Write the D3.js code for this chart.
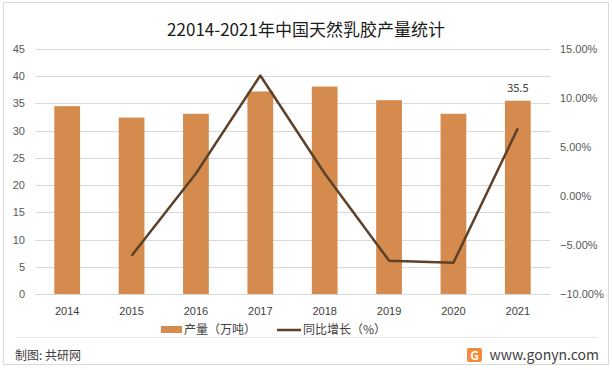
<!DOCTYPE html>
<html>
<head>
<meta charset="utf-8">
<script src="https://cdn.jsdelivr.net/npm/d3@7"></script>
<style>
  body { margin: 0; background: #fff; }
  svg { font-family: "Microsoft YaHei", "Noto Sans CJK SC", "DejaVu Sans", sans-serif; }
</style>
</head>
<body>
<div class="chart"></div>
<script>
'use strict';

const years = ['2014', '2015', '2016', '2017', '2018', '2019', '2020', '2021'];
const output = [34.5, 32.4, 33.1, 37.2, 38.1, 35.6, 33.1, 35.5]; // 产量（万吨）
const growth = [null, -6.1, 2.3, 12.3, 2.3, -6.6, -6.8, 6.9]; // 同比增长（%）
const leftTicks = [0, 5, 10, 15, 20, 25, 30, 35, 40, 45];
const rightTicks = [-10, -5, 0, 5, 10, 15];

const width = 612;
const height = 370;
const margin = {top: 49, right: 62, bottom: 76, left: 35};

const svg = d3.select('.chart')
    .append('svg')
    .attr('width', width)
    .attr('height', height);

// outer frame
svg.append('rect')
    .attr('x', 3.5).attr('y', 2.5)
    .attr('width', 605).attr('height', 362)
    .attr('fill', '#fff')
    .attr('stroke', '#d9d9d9');

const x = d3.scaleBand()
    .domain(years)
    .range([margin.left, width - margin.right])
    .paddingInner(0.6)
    .paddingOuter(0.3);

const y = d3.scaleLinear()
    .domain([0, 45])
    .range([height - margin.bottom, margin.top]);

const y2 = d3.scaleLinear()
    .domain([-10, 15])
    .range([height - margin.bottom, margin.top]);

// gridlines
svg.append('g')
    .selectAll('line')
    .data(leftTicks)
    .enter().append('line')
    .attr('x1', margin.left)
    .attr('x2', width - margin.right)
    .attr('y1', (d) => Math.round(y(d)) + 0.5)
    .attr('y2', (d) => Math.round(y(d)) + 0.5)
    .attr('stroke', '#d9d9d9');

// left axis
const leftAxis = svg.append('g')
    .attr('transform', 'translate(' + margin.left + ',0)')
    .call(d3.axisLeft(y).tickValues(leftTicks).tickSize(0).tickPadding(10));
leftAxis.select('.domain').remove();
leftAxis.selectAll('text')
    .attr('fill', '#595959')
    .style('font-size', '11px');

// right axis
const rightAxis = svg.append('g')
    .attr('transform', 'translate(' + (width - margin.right) + ',0)')
    .call(d3.axisRight(y2).tickValues(rightTicks).tickSize(0).tickPadding(10)
        .tickFormat((d) => d3.format('.2f')(d) + '%'));
rightAxis.select('.domain').remove();
rightAxis.selectAll('text')
    .attr('fill', '#595959')
    .style('font-size', '11px');

// x axis labels
const bottomAxis = svg.append('g')
    .attr('transform', 'translate(0,' + (height - margin.bottom) + ')')
    .call(d3.axisBottom(x).tickSize(0).tickPadding(13));
bottomAxis.select('.domain').remove();
bottomAxis.selectAll('text')
    .attr('fill', '#404040')
    .style('font-size', '11px');

// bars
svg.append('g')
    .selectAll('rect')
    .data(output)
    .enter().append('rect')
    .attr('x', (d, i) => x(years[i]))
    .attr('y', (d) => y(d))
    .attr('width', x.bandwidth())
    .attr('height', (d) => y(0) - y(d))
    .attr('fill', '#d58b4d');

// label on last bar
const last = output.length - 1;
svg.append('text')
    .attr('x', x(years[last]) + x.bandwidth() / 2)
    .attr('y', y(output[last]) - 9)
    .attr('text-anchor', 'middle')
    .attr('fill', '#404040')
    .style('font-size', '11px')
    .text(output[last]);

// growth line
const line = d3.line()
    .defined((d) => d !== null)
    .x((d, i) => x(years[i]) + x.bandwidth() / 2)
    .y((d) => y2(d));

svg.append('path')
    .datum(growth)
    .attr('d', line)
    .attr('fill', 'none')
    .attr('stroke', '#5e4129')
    .attr('stroke-width', 2.5)
    .attr('stroke-linejoin', 'round');

// title
svg.append('text')
    .attr('x', 306)
    .attr('y', 36)
    .attr('text-anchor', 'middle')
    .attr('fill', '#1a1a1a')
    .style('font-size', '17px')
    .text('22014-2021年中国天然乳胶产量统计');

// legend
const legend = svg.append('g').attr('transform', 'translate(0,330)');
legend.append('rect')
    .attr('x', 161).attr('y', -4)
    .attr('width', 21).attr('height', 7)
    .attr('fill', '#d58b4d');
legend.append('text')
    .attr('x', 184).attr('y', 4)
    .attr('fill', '#404040')
    .style('font-size', '12px')
    .text('产量（万吨）');
legend.append('line')
    .attr('x1', 277).attr('x2', 301)
    .attr('y1', 0).attr('y2', 0)
    .attr('stroke', '#5e4129')
    .attr('stroke-width', 2.5);
legend.append('text')
    .attr('x', 303).attr('y', 4)
    .attr('fill', '#404040')
    .style('font-size', '12px')
    .text('同比增长（%）');

// footer
svg.append('line')
    .attr('x1', 16).attr('x2', 598)
    .attr('y1', 337.5).attr('y2', 337.5)
    .attr('stroke', '#e6e6e6');

svg.append('text')
    .attr('x', 15).attr('y', 360)
    .attr('fill', '#404040')
    .style('font-size', '12px')
    .text('制图: 共研网');

const logo = svg.append('g').attr('transform', 'translate(467,348)');
logo.append('rect')
    .attr('width', 15).attr('height', 14)
    .attr('rx', 2)
    .attr('fill', '#f28a3c');
logo.append('text')
    .attr('x', 7.5).attr('y', 11.5)
    .attr('text-anchor', 'middle')
    .attr('fill', '#fff')
    .style('font-size', '12px')
    .style('font-weight', 'bold')
    .text('G');

svg.append('text')
    .attr('x', 599).attr('y', 360)
    .attr('text-anchor', 'end')
    .attr('fill', '#404040')
    .style('font-size', '14px')
    .text('www.gonyn.com');
</script>
</body>
</html>
